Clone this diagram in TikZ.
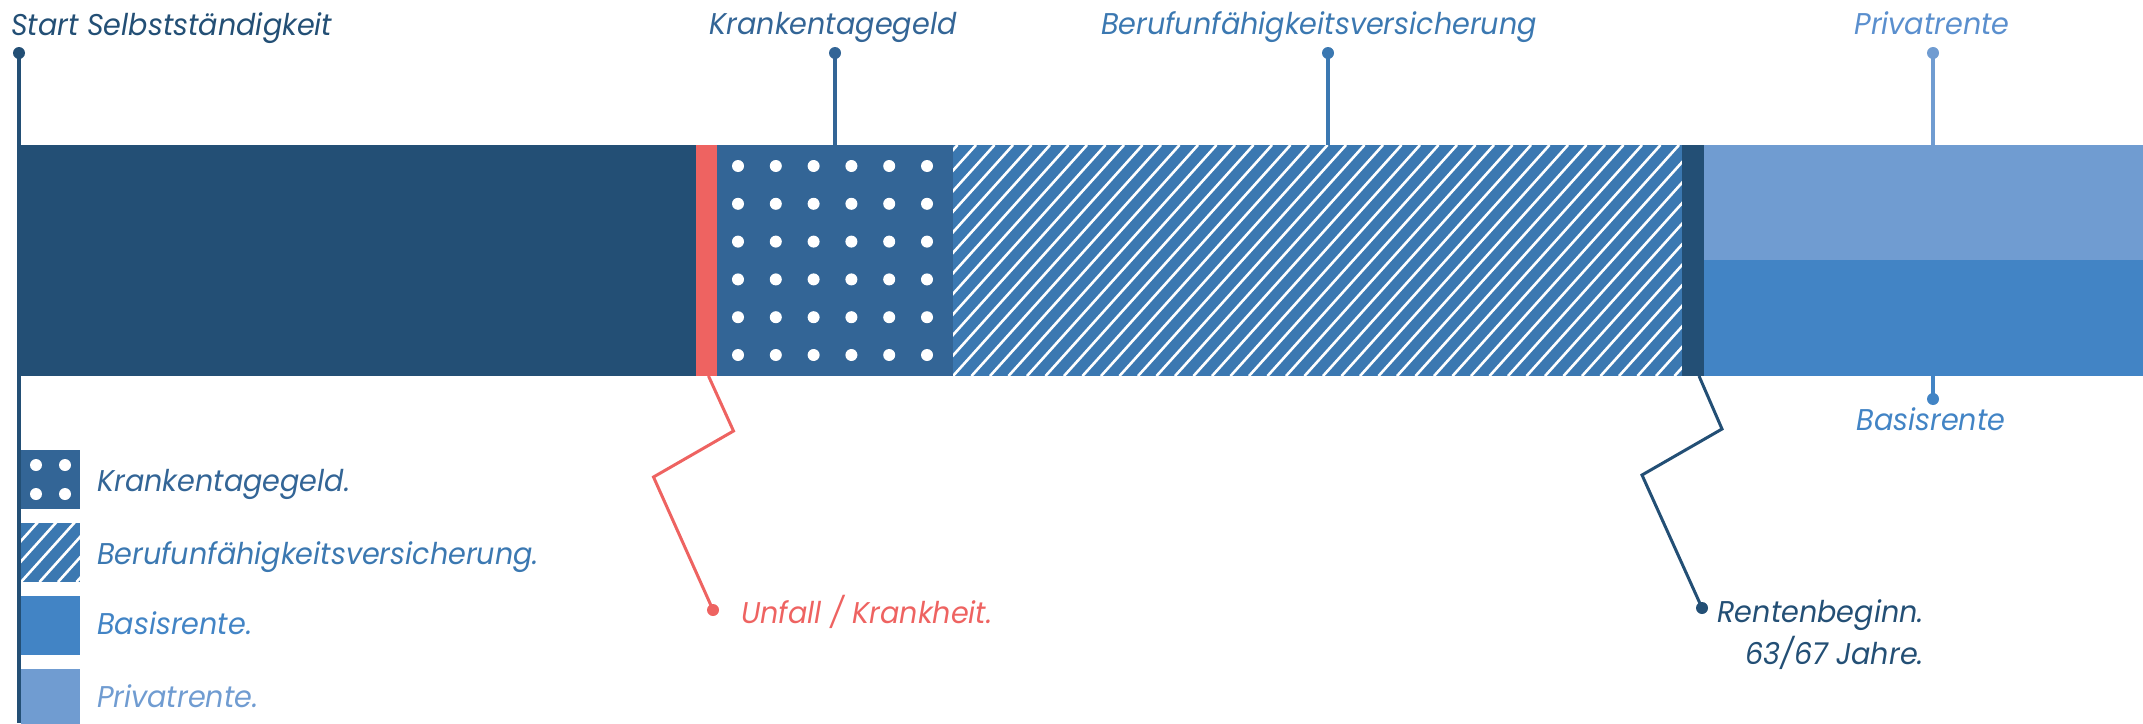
\documentclass[tikz,border=0pt]{standalone}
\usepackage{fontspec}
\setmainfont{Poppins}[FakeStretch=0.955]
\usetikzlibrary{positioning,calc}
\definecolor{navy}{HTML}{234F75}
\definecolor{ktblue}{HTML}{336596}
\definecolor{buvblue}{HTML}{3B78B1}
\definecolor{basisblue}{HTML}{4284C5}
\definecolor{privblue}{HTML}{709CD1}
\definecolor{privtext}{HTML}{5A8FCE}
\definecolor{accred}{HTML}{EE6361}

\begin{document}
\begin{tikzpicture}[x=1pt, y=-1pt,
    seg/.style={rectangle, inner sep=0pt, outer sep=0pt, anchor=north west},
    key/.style={seg, minimum size=59pt},
    lbl/.style={inner sep=0pt, font=\itshape\fontsize{30}{36}\selectfont},
    pin/.style={circle, inner sep=0pt, minimum size=12pt, fill=#1},
    lead/.style={line width=3.3pt, draw=#1},
    dotgrid/.style n args={3}{path picture={
        \foreach \c in {0,...,#1} \foreach \r in {0,...,#1}
          \fill[white] ($(path picture bounding box.north west)+(#2+\c*#3,#2+\r*#3)$) circle (6pt);}},
    hatched/.style={path picture={
        \foreach \i in {-12,...,40}
          \draw[white, line width=2.6pt] ($(path picture bounding box.south west)+(\i*18.5,0)$) -- ++(208,-231);}}
  ]
  \useasboundingbox (0,0) rectangle (2143,723);

  \node[seg, fill=navy, minimum width=677pt, minimum height=231pt] (work) at (19,145) {};
  \node[seg, fill=accred, minimum width=21pt, minimum height=231pt] (unfall) at (696,145) {};
  \node[seg, fill=ktblue, minimum width=236pt, minimum height=231pt, dotgrid={5}{21}{37.8}] (kt) at (717,145) {};
  \node[seg, fill=buvblue, minimum width=729pt, minimum height=231pt, hatched] (buv) at (953,145) {};
  \node[seg, fill=navy, minimum width=22pt, minimum height=231pt] (rente) at (1682,145) {};
  \node[seg, fill=privblue, minimum width=460pt, minimum height=115pt] (priv) at (1704,145) {};
  \node[seg, fill=basisblue, minimum width=460pt, minimum height=116pt] (basis) at (1704,260) {};

  \node[pin=navy] (startpin) at (19,53) {};
  \node[lbl, text=navy, anchor=base west] (startlbl) at (11,35) {Start Selbstständigkeit};
  \coordinate (startend) at (19,723);
  \draw[lead=navy] (startpin.center) -- (startend);

  \node[pin=ktblue] (ktpin) at (835,53) {};
  \node[lbl, text=ktblue, anchor=base] (ktlbl) at (833,34) {Krankentagegeld};
  \draw[lead=ktblue] (ktpin.center) -- (ktpin |- kt.north);

  \node[pin=buvblue] (buvpin) at (1328,53) {};
  \node[lbl, text=buvblue, anchor=base] (buvlbl) at (1319,34) {Berufunfähigkeitsversicherung};
  \draw[lead=buvblue] (buvpin.center) -- (buvpin |- buv.north);

  \node[pin=privblue] (privpin) at (1933,53) {};
  \node[lbl, text=privtext, anchor=base] (privlbl) at (1932,34) {Privatrente};
  \draw[lead=privblue] (privpin.center) -- (privpin |- priv.north);

  \node[pin=basisblue] (basispin) at (1933,399) {};
  \node[lbl, text=basisblue, anchor=base] (basislbl) at (1931,430) {Basisrente};
  \draw[lead=basisblue] (basispin.center) -- (basispin |- basis.south);

  \node[pin=accred] (unfallpin) at (713,610) {};
  \node[lbl, text=accred, anchor=base west] (unfalllbl) at (741,623) {Unfall / Krankheit.};
  \draw[lead=accred, line width=3pt] ($(unfall.south)+(2,0)$) -- ++(25,55) -- ++(-80,46) -- (unfallpin.center);

  \node[pin=navy] (rentepin) at (1702,608) {};
  \node[lbl, text=navy, anchor=base east] (rentelbl) at (1924,622) {Rentenbeginn.};
  \node[lbl, text=navy, anchor=base east] (altlbl) at (1924,664) {63/67 Jahre.};
  \draw[lead=navy, line width=3pt] ($(rente.south)+(6,0)$) -- ++(23,53) -- ++(-80,46) -- (rentepin.center);

  \node[key, fill=ktblue, dotgrid={1}{15}{29}] (keykt) at (21,450) {};
  \node[key, fill=buvblue, hatched, below=14pt of keykt] (keybuv) {};
  \node[key, fill=basisblue, below=14pt of keybuv] (keybasis) {};
  \node[key, fill=privblue, below=14pt of keybasis] (keypriv) {};
  \node[lbl, text=ktblue, anchor=base west] (keyktlbl) at (97,491) {Krankentagegeld.};
  \node[lbl, text=buvblue, anchor=base west] (keybuvlbl) at (97,564) {Berufunfähigkeitsversicherung.};
  \node[lbl, text=basisblue, anchor=base west] (keybasislbl) at (97,634) {Basisrente.};
  \node[lbl, text=privblue, anchor=base west] (keyprivlbl) at (97,707) {Privatrente.};
\end{tikzpicture}
\end{document}
